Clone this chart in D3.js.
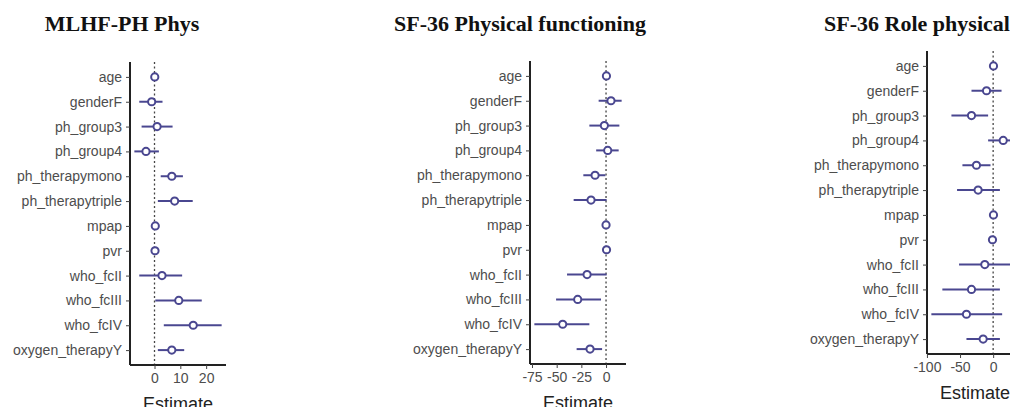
<!DOCTYPE html>
<html>
<head>
    <meta http-equiv="Content-Type" content="text/html;charset=utf8" />
    <title>Forest plots</title>
    <script src="https://d3js.org/d3.v7.min.js"></script>
    <style>
        body { margin: 0; background: #fff; overflow: hidden; }
        .lab { font-family: "Liberation Sans", Arial, sans-serif; font-size: 14px; fill: #4d4d4d; }
        .ttl { font-family: "Liberation Serif", "Times New Roman", serif; font-weight: bold; font-size: 22px; fill: #111; }
        .xt { font-family: "Liberation Sans", Arial, sans-serif; font-size: 18px; fill: #222; }
    </style>
</head>
<body>
<div id="chart"></div>
<script>
    // model terms, top to bottom
    var terms = ["age", "genderF", "ph_group3", "ph_group4", "ph_therapymono", "ph_therapytriple",
                 "mpap", "pvr", "who_fcII", "who_fcIII", "who_fcIV", "oxygen_therapyY"];

    var titles = ["MLHF-PH Phys", "SF-36 Physical functioning", "SF-36 Role physical"];

    // MLHF-PH Phys
    var mlhfEst = [0.1, -1.1, 1.0, -3.3, 6.7, 7.8, 0.3, 0.2, 2.9, 9.4, 15.0, 6.7];
    var mlhfLo  = [-0.5, -5.9, -5.0, -7.8, 2.4, 1.3, -0.4, -0.5, -5.9, 0.3, 3.6, 1.3];
    var mlhfHi  = [0.6, 3.1, 7.0, 1.7, 11.0, 14.8, 1.0, 0.9, 10.7, 18.3, 26.0, 11.5];
    var mlhfTicks = [0, 10, 20];

    // SF-36 Physical functioning
    var pfEst = [0.4, 5.0, -1.7, 1.7, -11.1, -15.2, 0.0, 0.5, -19.2, -28.7, -43.9, -16.2];
    var pfLo  = [-0.8, -7.5, -16.9, -10.0, -23.0, -32.8, -1.2, -0.8, -39.5, -50.6, -72.6, -29.8];
    var pfHi  = [1.5, 15.8, 13.5, 12.8, -0.7, 0.6, 1.2, 1.8, 0.6, -5.1, -16.9, -4.0];
    var pfTicks = [-75, -50, -25, 0];

    // SF-36 Role physical
    var rpEst = [0.5, -10.0, -32.7, 15.2, -25.2, -22.7, 0.5, -1.0, -12.6, -32.7, -40.3, -15.1];
    var rpLo  = [-1.5, -32.7, -63.0, -7.6, -46.4, -54.5, -1.5, -3.0, -51.5, -76.7, -93.3, -40.3];
    var rpHi  = [2.5, 12.7, -7.6, 38.5, -4.0, 10.2, 2.5, 1.0, 26.3, 10.2, 13.6, 10.2];
    var rpTicks = [-100, -50, 0];

    var W = 1010, H = 407;
    var col = "#4a4790";

    var svg = d3.select("#chart").append("svg").attr("width", W).attr("height", H);

    var panels = [
        {title: titles[0], est: mlhfEst, lo: mlhfLo, hi: mlhfHi, ticks: mlhfTicks, x0: 130, y0: 62, tx: 122},
        {title: titles[1], est: pfEst, lo: pfLo, hi: pfHi, ticks: pfTicks, x0: 530, y0: 61, tx: 520},
        {title: titles[2], est: rpEst, lo: rpLo, hi: rpHi, ticks: rpTicks, x0: 927, y0: 51, tx: 917}
    ];

    var pw = 96, ph = 303;

    panels.forEach(function(p) {
        var g = svg.append("g");

        // ggplot style 5% expansion
        var mn = d3.min(p.lo), mx = d3.max(p.hi), pad = (mx - mn) * 0.05;
        var x = d3.scaleLinear().domain([mn - pad, mx + pad]).range([p.x0, p.x0 + pw]);
        var y = d3.scalePoint().domain(terms).range([p.y0, p.y0 + ph]).padding(0.6);

        g.append("text").attr("class", "ttl")
            .attr("x", p.tx).attr("y", 31)
            .attr("text-anchor", "middle").text(p.title);

        // zero reference
        g.append("line")
            .attr("x1", x(0)).attr("x2", x(0))
            .attr("y1", p.y0).attr("y2", p.y0 + ph)
            .attr("stroke", "#444").attr("stroke-width", 1.3)
            .attr("stroke-dasharray", "2,2.5");

        // y axis
        var ya = g.append("g").attr("transform", "translate(" + p.x0 + ",0)")
            .call(d3.axisLeft(y).tickSize(4).tickPadding(4));
        ya.select(".domain").attr("stroke", "#222").attr("stroke-width", 2);
        ya.selectAll(".tick line").attr("stroke", "#444").attr("stroke-width", 1);
        ya.selectAll(".tick text").attr("class", "lab").attr("font-size", null).attr("font-family", null).attr("fill", null);

        // x axis
        var xa = g.append("g").attr("transform", "translate(0," + (p.y0 + ph) + ")")
            .call(d3.axisBottom(x).tickValues(p.ticks).tickSize(4).tickPadding(4).tickFormat(d3.format("d")));
        xa.select(".domain").attr("stroke", "#222").attr("stroke-width", 2);
        xa.selectAll(".tick line").attr("stroke", "#444").attr("stroke-width", 1);
        xa.selectAll(".tick text").attr("class", "lab").attr("font-size", null).attr("font-family", null).attr("fill", null)
            .text(function(d) { return d < 0 ? "-" + Math.abs(d) : d; });
        // plain axis lines, no outer ticks
        xa.select(".domain").attr("d", "M" + p.x0 + ",0H" + (p.x0 + pw));
        ya.select(".domain").attr("d", "M0," + p.y0 + "V" + (p.y0 + ph));

        g.append("text").attr("class", "xt")
            .attr("x", p.x0 + pw / 2).attr("y", p.y0 + ph + 45)
            .attr("text-anchor", "middle").text("Estimate");

        var rows = terms.map(function(t, i) { return {t: t, e: p.est[i], lo: p.lo[i], hi: p.hi[i]}; });

        g.selectAll("line.ci").data(rows).enter().append("line")
            .attr("class", "ci")
            .attr("x1", function(d) { return x(d.lo); })
            .attr("x2", function(d) { return x(d.hi); })
            .attr("y1", function(d) { return y(d.t); })
            .attr("y2", function(d) { return y(d.t); })
            .attr("stroke", col).attr("stroke-width", 2);

        g.selectAll("circle").data(rows).enter().append("circle")
            .attr("cx", function(d) { return x(d.e); })
            .attr("cy", function(d) { return y(d.t); })
            .attr("r", 3.6)
            .attr("fill", "#fff").attr("stroke", col).attr("stroke-width", 2);
    });
</script>
</body>
</html>
